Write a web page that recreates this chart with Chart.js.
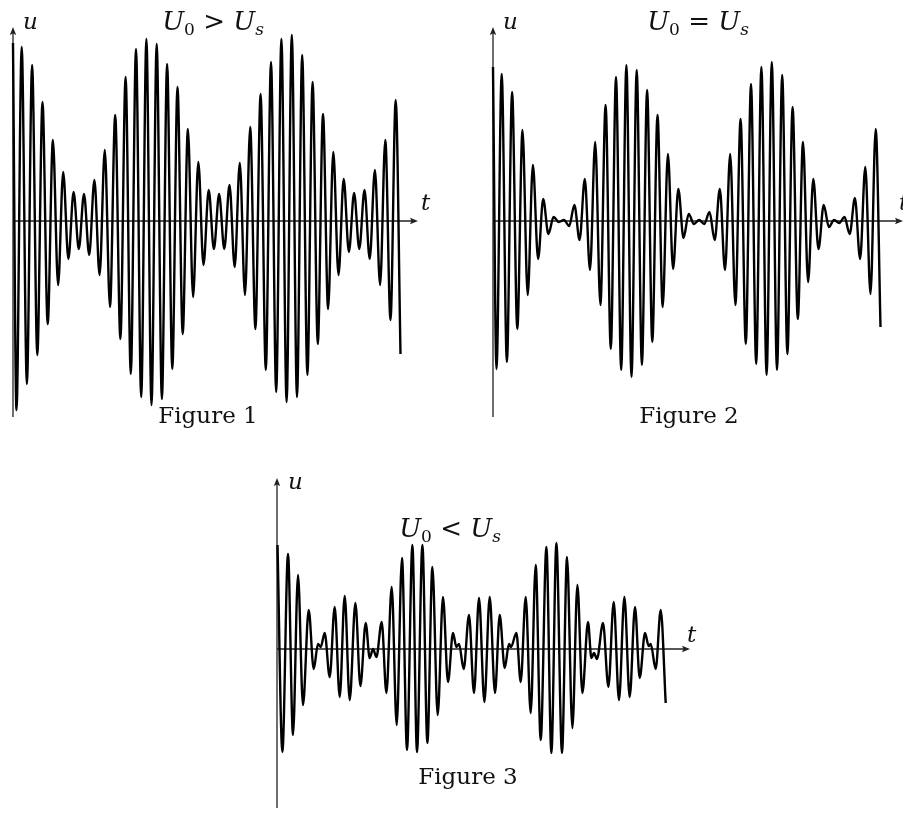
<!DOCTYPE html>
<html>
<head>
<meta charset="utf-8">
<script src="https://cdn.jsdelivr.net/npm/chart.js@4.4.1/dist/chart.umd.min.js"></script>
<style>
    html, body { margin: 0; padding: 0; background: #fff; }
    body { width: 903px; height: 814px; position: relative; overflow: hidden; }
    canvas { position: absolute; }
    .lbl { position: absolute; font-family: "DejaVu Serif", "Liberation Serif", serif; color: #111; line-height: 1; white-space: nowrap; }
    .math { font-style: italic; font-size: 23px; }
    .title { font-size: 26px; transform: translateX(-50%); }
    .title sub { font-size: 17px; vertical-align: -5px; line-height: 0; }
    .title sub.up { font-style: normal; }
    .caption { font-size: 23px; transform: translateX(-50%); }
</style>
</head>
<body>
<canvas id="fig1"></canvas>
<canvas id="fig2"></canvas>
<canvas id="fig3"></canvas>

<div class="lbl math" style="left:23px; top:10px;">u</div>
<div class="lbl math title" style="left:213px; top:8px;">U<sub class="up">0</sub> &gt; U<sub>s</sub></div>
<div class="lbl math" style="left:421px; top:191px;">t</div>
<div class="lbl caption" style="left:208px; top:404px;">Figure 1</div>

<div class="lbl math" style="left:503px; top:10px;">u</div>
<div class="lbl math title" style="left:698px; top:8px;">U<sub class="up">0</sub> = U<sub>s</sub></div>
<div class="lbl math" style="left:899px; top:191px;">t</div>
<div class="lbl caption" style="left:689px; top:404px;">Figure 2</div>

<div class="lbl math" style="left:288px; top:470px;">u</div>
<div class="lbl math title" style="left:450px; top:515px;">U<sub class="up">0</sub> &lt; U<sub>s</sub></div>
<div class="lbl math" style="left:687px; top:623px;">t</div>
<div class="lbl caption" style="left:468px; top:765px;">Figure 3</div>

<script>
// Temps des extrema (fig. 1 et 2 ont le meme echantillonnage)
const beatTimes = [0,
    3.5, 8.7, 13.9, 19.1, 24.3, 29.5, 34.7, 39.9, 45.1, 50.2, 55.4, 60.6, 65.8, 71.0, 76.2, 81.4, 86.6, 91.8, 97.0,
    102.2, 107.4, 112.6, 117.8, 123.0, 128.2, 133.4, 138.5, 143.7, 148.9, 154.1, 159.3, 164.5, 169.7, 174.9, 180.1, 185.3, 190.5,
    195.7, 200.9, 206.1, 211.3, 216.5, 221.7, 226.8, 232.0, 237.2, 242.4, 247.6, 252.8, 258.0, 263.2, 268.4, 273.6, 278.8,
    284.0, 289.2, 294.4, 299.6, 304.8, 310.0, 315.1, 320.3, 325.5, 330.7, 335.9, 341.1, 346.3, 351.5, 356.7, 361.9, 367.1,
    372.3, 377.5, 382.7,
    387.5];

// Figure 1 : U0 > Us
const fig1U = [178,
    -189, 174, -163, 156, -134, 119, -103, 81, -64, 49, -38, 29, -28, 27, -34, 41, -54, 71, -86, 106,
    -118, 144, -153, 172, -176, 182, -184, 177, -178, 157, -148, 134, -113, 92, -76, 59, -44,
    31, -28, 27, -28, 36, -46, 58, -74, 94, -108, 127, -149, 159, -171, 182, -181, 186, -176, 166, -154,
    139, -123, 107, -88, 69, -54, 42, -31, 28, -28, 31, -38, 51, -64, 81, -99, 121,
    -133];

// Figure 2 : U0 = Us
const fig2U = [154,
    -148, 147, -141, 129, -108, 91, -74, 56, -38, 22, -13, 4, -1, 1, -5, 16, -19, 42, -49, 79,
    -84, 116, -128, 144, -149, 156, -156, 151, -144, 131, -121, 106, -86, 67, -48, 32, -17,
    7, -3, 1, -3, 9, -19, 32, -49, 67, -84, 102, -123, 137, -143, 154, -154, 159, -149, 146, -133,
    114, -98, 79, -61, 42, -28, 16, -6, 1, -2, 4, -13, 23, -38, 54, -73, 92,
    -106];

// Figure 3 : U0 < Us
const fig3Times = [0.5, 5.4, 11.0, 16.0, 21.0, 26.0, 31.7, 36.7, 41.0, 43.7,
    47.7, 52.7, 57.7, 62.7, 67.7, 72.7, 78.4, 83.4, 88.7, 92.7,
    96.0, 99.4, 104.7, 109.4, 114.7, 119.7, 125.0, 130.0, 135.4, 140.0,
    145.4, 150.4, 155.4, 160.7, 166.0, 171.0, 176.0, 179.4, 182.0, 186.7,
    192.0, 197.0, 202.0, 207.4, 212.7, 218.0, 222.7, 227.7, 232.0, 234.0,
    239.4, 243.7, 248.7, 253.7, 258.7, 263.7, 269.4, 274.4, 279.4, 285.0,
    290.0, 295.4, 300.4, 305.4, 311.0, 314.4, 317.0, 320.0, 326.0, 331.4,
    336.7, 342.0, 347.4, 352.7, 358.0, 362.7, 368.0, 371.7, 373.7, 378.7,
    383.7, 388.7];
const fig3U = [104, -103, 95, -86, 74, -56, 39, -20, 5, 2,
    16, -28, 42, -48, 53, -51, 46, -37, 26, -9,
    0, -8, 27, -44, 62, -76, 91, -101, 104, -103,
    104, -94, 82, -66, 52, -33, 16, 2, 5, -20,
    34, -44, 51, -53, 52, -44, 34, -19, 5, 2,
    16, -33, 52, -64, 84, -91, 102, -104, 106, -104,
    92, -79, 64, -44, 27, -9, -4, -10, 26, -38,
    47, -51, 52, -48, 42, -29, 16, 3, 5, -20,
    39, -54];

const PAD = 6;

// Axes avec fleches, dessinees a partir des echelles
const axisArrows = {
    id: 'axisArrows',
    beforeDatasetsDraw(chart) {
        const { ctx, scales: { x, y } } = chart;
        const x0 = x.getPixelForValue(0);
        const y0 = y.getPixelForValue(0);
        ctx.save();
        ctx.strokeStyle = '#222';
        ctx.fillStyle = '#222';
        ctx.lineWidth = 1.3;
        ctx.beginPath();
        ctx.moveTo(x0, y.bottom);
        ctx.lineTo(x0, y.top + 4);
        ctx.moveTo(x0, y0);
        ctx.lineTo(x.right - 4, y0);
        ctx.stroke();
        // fleche verticale
        ctx.beginPath();
        ctx.moveTo(x0, y.top);
        ctx.lineTo(x0 - 3.2, y.top + 8);
        ctx.lineTo(x0, y.top + 6.5);
        ctx.lineTo(x0 + 3.2, y.top + 8);
        ctx.closePath();
        ctx.fill();
        // fleche horizontale
        ctx.beginPath();
        ctx.moveTo(x.right, y0);
        ctx.lineTo(x.right - 8, y0 - 3.2);
        ctx.lineTo(x.right - 6.5, y0);
        ctx.lineTo(x.right - 8, y0 + 3.2);
        ctx.closePath();
        ctx.fill();
        ctx.restore();
    }
};

function makeFigure(id, left, top, times, amps, xMax, yMin, yMax) {
    const canvas = document.getElementById(id);
    const w = xMax + 2 * PAD;
    const h = (yMax - yMin) + 2 * PAD;
    canvas.width = w;
    canvas.height = h;
    canvas.style.left = left + 'px';
    canvas.style.top = top + 'px';
    canvas.style.width = w + 'px';
    canvas.style.height = h + 'px';

    const points = times.map((t, i) => ({ x: t, y: amps[i] }));

    return new Chart(canvas.getContext('2d'), {
        type: 'line',
        data: {
            datasets: [{
                data: points,
                borderColor: '#000',
                borderWidth: 2.4,
                pointRadius: 0,
                cubicInterpolationMode: 'monotone',
                fill: false,
                clip: false
            }]
        },
        options: {
            responsive: false,
            animation: false,
            devicePixelRatio: 1,
            layout: { padding: PAD },
            plugins: { legend: { display: false }, tooltip: { enabled: false } },
            scales: {
                x: { type: 'linear', min: 0, max: xMax, display: false },
                y: { type: 'linear', min: yMin, max: yMax, display: false }
            }
        },
        plugins: [axisArrows]
    });
}

makeFigure('fig1', 13 - PAD, 27 - PAD, beatTimes, fig1U, 405, -196, 194);
makeFigure('fig2', 493 - PAD, 27 - PAD, beatTimes, fig2U, 410, -196, 194);
makeFigure('fig3', 277 - PAD, 478 - PAD, fig3Times, fig3U, 413, -159, 171);
</script>
</body>
</html>
